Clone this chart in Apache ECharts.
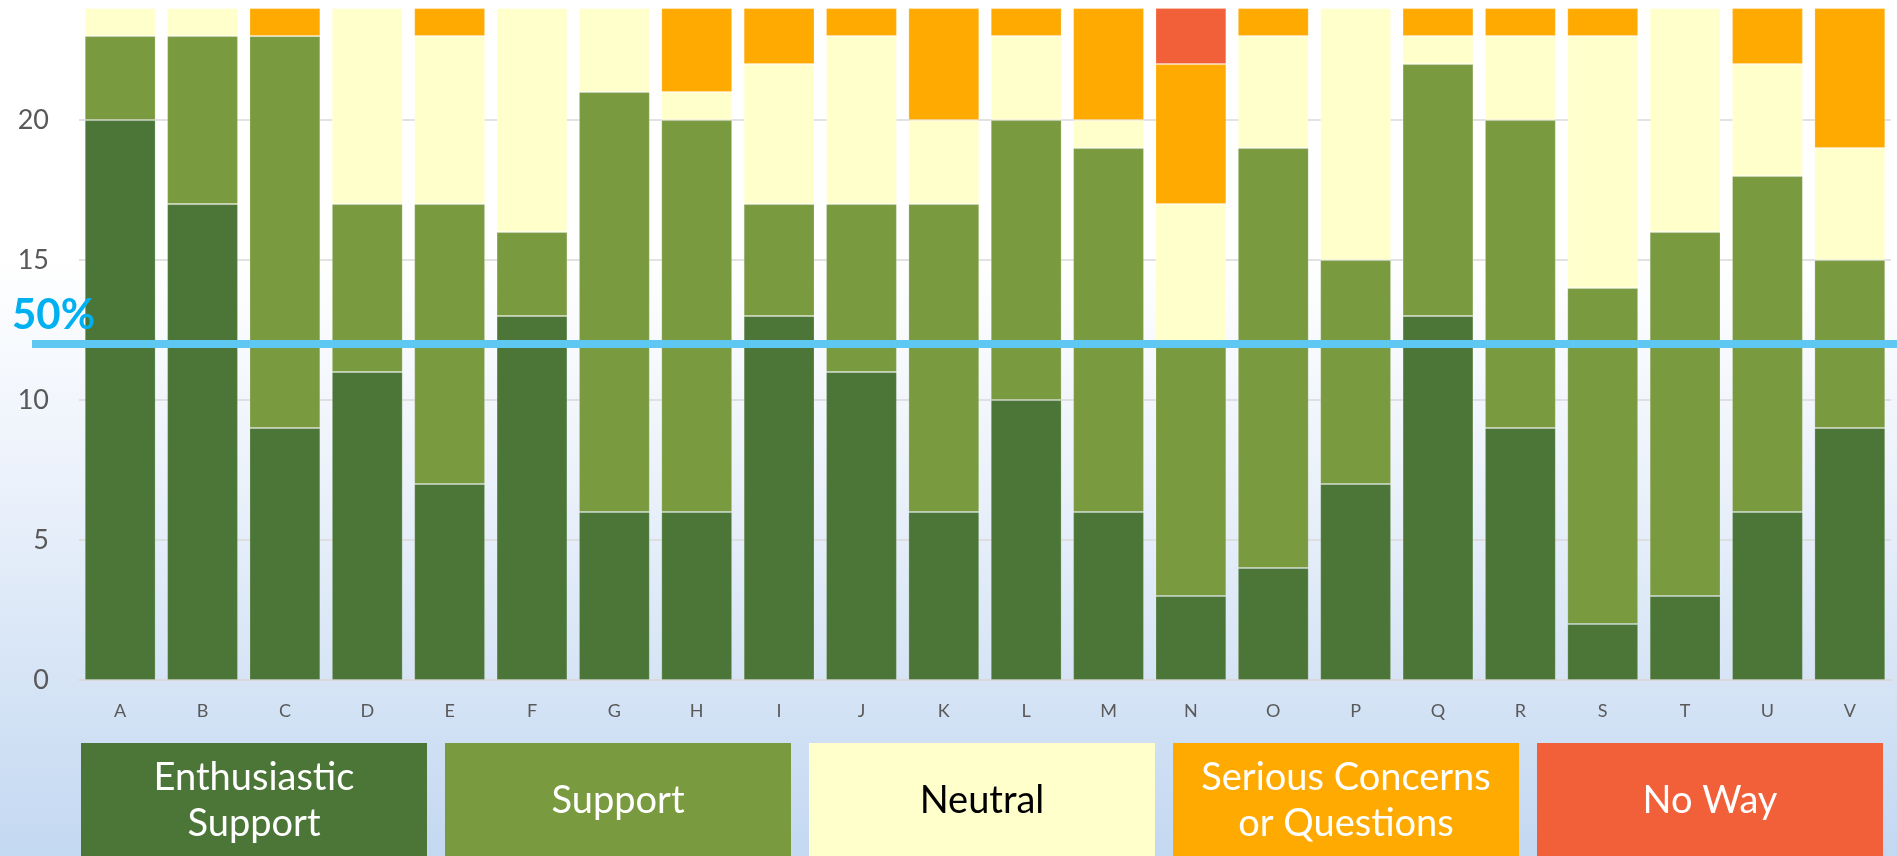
<!DOCTYPE html>
<html>
<head>
<meta charset="utf-8">
<script src="https://cdn.jsdelivr.net/npm/echarts@6/dist/echarts.min.js"></script>
<style>
html,body{margin:0;padding:0;width:1897px;height:856px;overflow:hidden;}
#c{width:1897px;height:856px;}
</style>
</head>
<body>
<div id="c"></div>
<script>
const categories = ['A','B','C','D','E','F','G','H','I','J','K','L','M','N','O','P','Q','R','S','T','U','V'];
const seriesNames = ['Enthusiastic\nSupport','Support','Neutral','Serious Concerns\nor Questions','No Way'];
const enthusiastic = [20,17,9,11,7,13,6,6,13,11,6,10,6,3,4,7,13,9,2,3,6,9];
const support      = [3,6,14,6,10,3,15,14,4,6,11,10,13,9,15,8,9,11,12,13,12,6];
const neutral      = [1,1,0,7,6,8,3,1,5,6,3,3,1,5,4,9,1,3,9,8,4,4];
const concerns     = [0,0,1,0,1,0,0,3,2,1,4,1,4,5,1,0,1,1,1,0,2,5];
const noWay        = [0,0,0,0,0,0,0,0,0,0,0,0,0,2,0,0,0,0,0,0,0,0];
const yMin = 0, yMax = 24.29, yStep = 5;
const halfLineValue = 12;
const halfLineLabel = '50%';

const colors = ['#4B7637','#7A9A40','#FFFFCC','#FFAA00','#F26039'];
const textColors = ['#FFFFFF','#FFFFFF','#000000','#FFFFFF','#FFFFFF'];
const allData = [enthusiastic, support, neutral, concerns, noWay];
const FONT = 'Lato, "Open Sans", sans-serif';

const chart = echarts.init(document.getElementById('c'));
const option = {
  animation: false,
  backgroundColor: {
    type: 'linear', x: 0, y: 0, x2: 0, y2: 1,
    colorStops: [
      {offset: 0, color: '#FFFFFF'},
      {offset: 0.3, color: '#FFFFFF'},
      {offset: 0.55, color: '#ECF2FB'},
      {offset: 1, color: '#C3D8F1'}
    ]
  },
  grid: {left: 79, right: 6, top: 0, bottom: 176, containLabel: false},
  xAxis: {
    type: 'category',
    data: categories,
    axisLine: {show: true, lineStyle: {color: '#D9D9D9', width: 1.5}},
    axisTick: {show: false},
    axisLabel: {color: '#595959', fontSize: 18, fontFamily: FONT, margin: 22}
  },
  yAxis: {
    type: 'value',
    min: yMin, max: yMax, interval: yStep,
    axisLine: {show: false},
    axisTick: {show: false},
    axisLabel: {color: '#595959', fontSize: 27, fontFamily: FONT, margin: 30, showMaxLabel: false},
    splitLine: {showMaxLine: false, lineStyle: {color: '#D9D9D9', width: 1.5}}
  },
  series: allData.map((d, i) => ({
    name: seriesNames[i],
    type: 'bar',
    stack: 'total',
    data: d,
    barCategoryGap: '14%',
    itemStyle: {color: colors[i], borderColor: 'rgba(255,255,255,0.2)', borderWidth: 1},
    emphasis: {disabled: true}
  }))
};
chart.setOption(option);

const yHalf = chart.convertToPixel({yAxisIndex: 0}, halfLineValue);
const graphics = [
  {type: 'line', shape: {x1: 32, y1: yHalf, x2: 1897, y2: yHalf},
   style: {stroke: '#5FC8F2', lineWidth: 8}, z: 100},
  {type: 'text', x: 12, y: yHalf - 8, z: 101,
   style: {text: halfLineLabel, fill: '#00B0F0', font: 'bold 42px ' + FONT, verticalAlign: 'bottom'}}
];
const boxW = 346, boxGap = 18, boxX0 = 81, boxTop = 743, boxH = 114;
seriesNames.forEach((n, i) => {
  const x = boxX0 + i * (boxW + boxGap);
  graphics.push({type: 'rect', shape: {x: x, y: boxTop, width: boxW, height: boxH}, style: {fill: colors[i]}, z: 50});
  graphics.push({type: 'text', x: x + boxW / 2, y: boxTop + boxH / 2 + 1, z: 51,
    style: {text: n, fill: textColors[i], font: '38px ' + FONT, align: 'center', verticalAlign: 'middle', lineHeight: 46}});
});
chart.setOption({graphic: graphics});
</script>
</body>
</html>
